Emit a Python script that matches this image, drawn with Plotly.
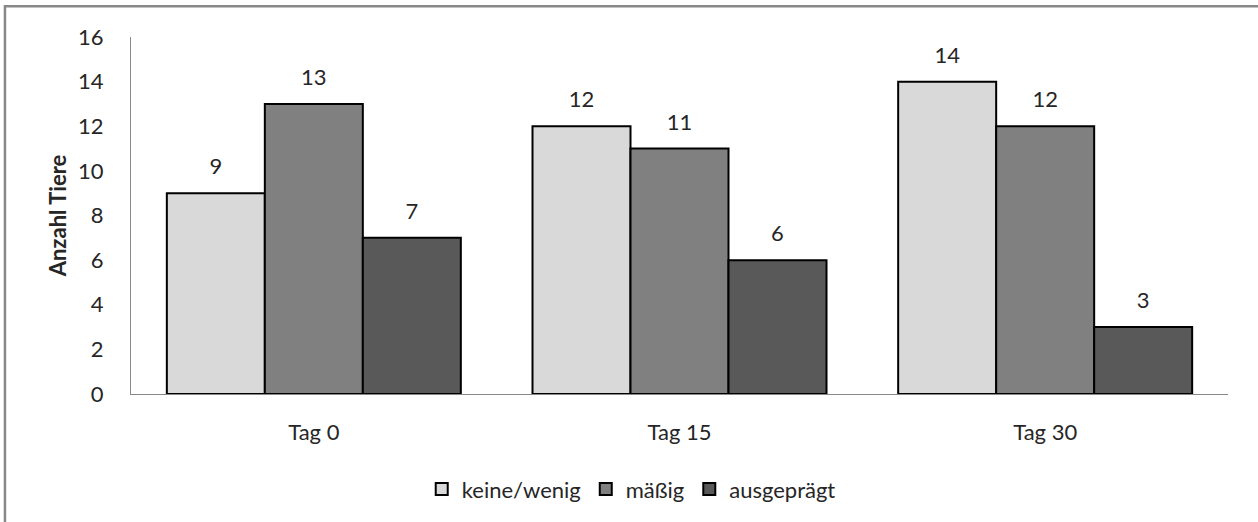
import plotly.graph_objects as go

categories = ["Tag 0", "Tag 15", "Tag 30"]
series_names = ["keine/wenig", "mäßig", "ausgeprägt"]
keine_wenig = [9, 12, 14]
maessig = [13, 11, 12]
ausgepraegt = [7, 6, 3]
colors = ["#d9d9d9", "#808080", "#595959"]
y_ticks = [0, 2, 4, 6, 8, 10, 12, 14, 16]

FONT = "Lato, Open Sans, sans-serif"
FS = 22
GAP = 0.196
fig = go.Figure()
for name, vals, col in zip(series_names, [keine_wenig, maessig, ausgepraegt], colors):
    fig.add_trace(go.Bar(
        x=categories, y=vals, name=name,
        marker=dict(color=col, line=dict(color="#000000", width=2)),
        cliponaxis=False,
    ))
for name, vals in zip(series_names, [keine_wenig, maessig, ausgepraegt]):
    fig.add_trace(go.Scatter(
        x=categories, y=vals, name=name, mode="markers+text",
        marker=dict(size=20, opacity=0),
        text=[str(v) for v in vals], textposition="top center",
        textfont=dict(size=FS, color="#262626", family=FONT),
        showlegend=False, cliponaxis=False, hoverinfo="skip",
    ))

fig.update_layout(
    width=1258, height=522,
    margin=dict(l=131, r=30, t=37, b=125),
    paper_bgcolor="white", plot_bgcolor="white",
    barmode="group", bargap=GAP, bargroupgap=0,
    scattermode="group", scattergap=GAP,
    font=dict(family=FONT, size=FS, color="#262626"),
    showlegend=True,
    legend=dict(orientation="h", x=0.456, xanchor="center", y=-0.267, yanchor="middle",
                font=dict(size=FS), itemwidth=30, tracegroupgap=0),
    xaxis=dict(showline=True, linecolor="#888888", linewidth=1, ticks="",
               showgrid=False, ticklabelstandoff=19, tickfont=dict(size=FS)),
    yaxis=dict(range=[0, 16], tickvals=y_ticks, showline=True, linecolor="#888888",
               linewidth=1, ticks="", showgrid=False, zeroline=False,
               ticklabelstandoff=22, tickfont=dict(size=FS),
               title=dict(text="<b>Anzahl Tiere</b>", font=dict(size=FS), standoff=5)),
    shapes=[dict(type="rect", xref="paper", yref="paper", x0=-0.1149, x1=1.2,
                 y0=-0.6, y1=1.0861, line=dict(color="#888888", width=2.5),
                 fillcolor="rgba(0,0,0,0)", layer="below")],
)
fig.write_html("out.html")
